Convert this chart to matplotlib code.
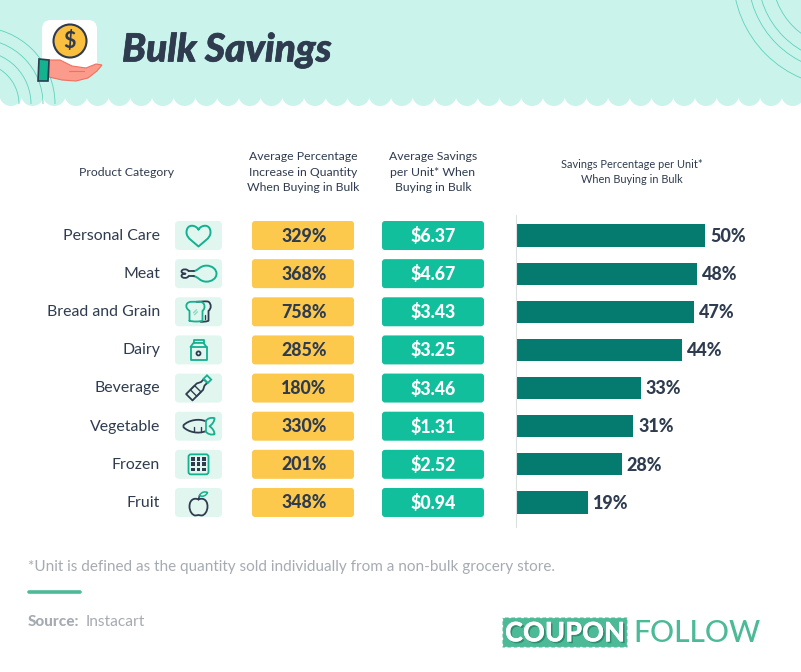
"""Bulk savings table-chart: pixel canvas for the layout, one axes for the bars."""

import numpy as np
import matplotlib
matplotlib.use("Agg")
import matplotlib.pyplot as plt
import matplotlib.patheffects as pe
from matplotlib.patches import Arc, Circle, Ellipse, FancyBboxPatch, PathPatch, Polygon, Rectangle
from matplotlib.path import Path

categories = ["Personal Care", "Meat", "Bread and Grain", "Dairy",
              "Beverage", "Vegetable", "Frozen", "Fruit"]
quantity_increase = [329, 368, 758, 285, 180, 330, 201, 348]
unit_savings = [6.37, 4.67, 3.43, 3.25, 3.46, 1.31, 2.52, 0.94]
savings_pct = [50, 48, 47, 44, 33, 31, 28, 19]

W, H = 801, 672
ROW_TOP, ROW_PITCH = 235.5, 38.14

MINT = "#CAF3EB"
INK = "#2F3C4F"
YELLOW = "#FDC94D"
GREEN = "#12BF9C"
TEAL = "#047B6E"
ICON_BG = "#E2F6F0"
ICON_GREEN = "#14B08F"
GREY = "#A6ABB2"
LOGO = "#4DBA97"

plt.rcParams["font.family"] = ["Lato", "DejaVu Sans"]

fig = plt.figure(figsize=(W / 100, H / 100), dpi=100, facecolor="white")
ax = fig.add_axes([0, 0, 1, 1])
ax.set_xlim(0, W)
ax.set_ylim(H, 0)
ax.axis("off")


def row_y(i):
    return ROW_TOP + i * ROW_PITCH


def round_box(x0, y0, x1, y1, color, pad=4, z=2):
    ax.add_patch(FancyBboxPatch((x0 + pad, y0 + pad), x1 - x0 - 2 * pad, y1 - y0 - 2 * pad,
                                boxstyle=f"round,pad={pad},rounding_size={pad}",
                                fc=color, ec="none", zorder=z))


def curve(ox, oy, start, segments, color=ICON_GREEN, lw=1.3, z=4, fc="none"):
    """Cubic outline; segments are (c1, c2, end) offsets from the origin."""
    verts = [start]
    codes = [Path.MOVETO]
    for seg in segments:
        verts.extend(seg)
        codes.extend([Path.CURVE4] * 3)
    verts = [(ox + a, oy + b) for a, b in verts]
    ax.add_patch(PathPatch(Path(verts, codes), fc=fc, ec=color, lw=lw, zorder=z,
                           capstyle="round", joinstyle="round"))


def line(xs, ys, color=INK, lw=1.3, z=4):
    ax.plot(xs, ys, color=color, lw=lw, zorder=z, solid_capstyle="round",
            solid_joinstyle="round")


# header band with the scalloped lower edge
ax.add_patch(Rectangle((0, 0), W, 95, fc=MINT, ec="none", zorder=0))
scallop_pitch = 21.72
for k in range(38):
    ax.add_patch(Circle(((k + 0.5) * scallop_pitch, 94.6), 11.4, fc=MINT, ec="none", zorder=0))

# thin arcs in the header corners
for r in (77, 65, 53, 41):
    ax.add_patch(Arc((-22, 104), 2 * r, 2 * r, theta1=270, theta2=360, ec="#5FD2BC", lw=0.6, zorder=1))
for r in (112, 97, 87, 73):
    ax.add_patch(Arc((845, -25), 2 * r, 2 * r, theta1=90, theta2=180, ec="#5FD2BC", lw=0.6, zorder=1))

# money-in-hand icon
round_box(42, 20, 97, 76, "white", pad=9, z=2)
ax.add_patch(Circle((70, 41), 16.5, fc="#FBBF3F", ec=INK, lw=1.5, zorder=3))
ax.text(70, 41.5, "$", fontsize=15.5, fontweight="bold", color=INK, ha="center", va="center", zorder=4)
ax.add_patch(Polygon([(49, 60), (60, 60), (72, 66), (86, 68), (96, 64), (102, 65), (97, 71),
                      (88, 78), (76, 81), (62, 80), (49, 77)],
                     fc="#FB9B8C", ec="#F0705F", lw=0.8, zorder=3))
line([69, 84], [71, 71], color="#F0705F", lw=0.8)
ax.add_patch(Polygon([(39, 59), (49, 60), (48, 81), (38, 81)], fc="#12B48F", ec=INK, lw=1.2, zorder=4))

ax.text(122, 61.5, "Bulk Savings", fontsize=28, fontweight="black", fontstyle="italic",
        color=INK, ha="left", va="baseline", zorder=4,
        path_effects=[pe.withStroke(linewidth=0.5, foreground=INK)])

# column headers
head_kw = dict(color=INK, ha="center", va="center", linespacing=1.52, zorder=4)
ax.text(127, 172, "Product Category", fontsize=8.8, **head_kw)
ax.text(303, 172, "Average Percentage\nIncrease in Quantity\nWhen Buying in Bulk", fontsize=8.8, **head_kw)
ax.text(433, 172, "Average Savings\nper Unit* When\nBuying in Bulk", fontsize=8.8, **head_kw)
ax.text(632, 172, "Savings Percentage per Unit*\nWhen Buying in Bulk", fontsize=7.9, **head_kw)

# table rows
for i, (cat, qty, sav) in enumerate(zip(categories, quantity_increase, unit_savings)):
    y = row_y(i)
    ax.text(160, y + 0.3, cat, fontsize=11.4, color=INK, ha="right", va="center", zorder=4)
    round_box(175, y - 14.5, 222, y + 14.5, ICON_BG, pad=4)
    round_box(252, y - 14.5, 354, y + 14.5, YELLOW, pad=3)
    round_box(382, y - 14.5, 484, y + 14.5, GREEN, pad=3)
    ax.text(304, y + 0.5, f"{qty}%", fontsize=12.8, fontweight="black", color=INK, ha="center", va="center", zorder=4)
    ax.text(433, y + 0.5, f"${sav:.2f}", fontsize=12.8, fontweight="black", color="white", ha="center", va="center", zorder=4)

# row icons, drawn around each icon cell centre
cx = 198.5

# heart
y = row_y(0)
curve(cx, y, (0, -6), [((-3, -11), (-12, -12), (-12, -3)),
                       ((-12, 3), (-4, 7), (0, 11)),
                       ((4, 7), (12, 3), (12, -3)),
                       ((12, -12), (3, -11), (0, -6))], lw=1.4)

# drumstick
y = row_y(1)
curve(cx, y, (-5, -2.5), [((0, -3), (1, -8), (8, -8)),
                          ((14, -8), (18, -4), (18, 0)),
                          ((18, 5), (13, 8), (8, 8)),
                          ((1, 8), (0, 3), (-5, 2.5))], lw=1.4)
line([cx - 5, cx - 10], [y - 2.5, y - 2.5])
line([cx - 5, cx - 10], [y + 2.5, y + 2.5])
curve(cx, y, (-10, -2.5), [((-11, -5), (-17, -5), (-17, -2)),
                           ((-17, -1), (-15, 0), (-13, 0)),
                           ((-15, 0), (-17, 1), (-17, 2)),
                           ((-17, 5), (-11, 5), (-10, 2.5))], color=INK)

# bread, dark back slice then the green front slice
y = row_y(2)
curve(cx, y, (-2, -10), [((3, -10), (8, -11), (10, -10)),
                         ((13, -8), (13, -3), (10, -1)),
                         ((10, 2), (10, 5), (10, 9)),
                         ((7, 10), (5, 10), (2, 10))], color=INK)
line([cx + 6, cx + 6], [y + 3, y + 7], lw=1)
curve(cx, y, (-9, 9), [((-9, 5), (-9, 2), (-9, -1)),
                       ((-14, -4), (-13, -10), (-7, -10)),
                       ((-3, -10), (0, -10), (2, -10)),
                       ((7, -9), (7, -3), (4, -1)),
                       ((4, 2), (4, 6), (4, 9)),
                       ((0, 10), (-5, 10), (-9, 9))])
line([cx - 5, cx - 2], [y + 1, y - 2], color="#8FD8C6", lw=1)
line([cx - 4, cx - 1], [y + 3, y], color="#8FD8C6", lw=1)

# milk carton
y = row_y(3)
line([cx - 8, cx + 8, cx + 8, cx - 8, cx - 8], [y - 3, y - 3, y + 10, y + 10, y - 3], color=ICON_GREEN)
line([cx - 8, cx - 5, cx + 5, cx + 8], [y - 3, y - 7, y - 7, y - 3], color=ICON_GREEN)
line([cx - 5, cx - 5, cx + 5, cx + 5], [y - 7, y - 10, y - 10, y - 7], color=ICON_GREEN)
ax.add_patch(Circle((cx, y + 3.5), 2, fc="none", ec=INK, lw=1.3, zorder=4))

# bottle, laid along a 45 degree axis
y = row_y(4)


def tilt(u, v):
    return (cx + (u + v) * 0.707, y - (u - v) * 0.707)


body = [tilt(*p) for p in [(-13, -4.5), (2, -4.5), (6, -2.5), (10, -2.5), (10, 2.5), (6, 2.5), (2, 4.5), (-13, 4.5)]]
ax.add_patch(Polygon(body, closed=True, fc="none", ec=INK, lw=1.3, zorder=4, joinstyle="round"))
ax.add_patch(Polygon([tilt(*p) for p in [(10, -3), (15, -3), (15, 3), (10, 3)]], closed=True,
                     fc="none", ec=ICON_GREEN, lw=1.3, zorder=4))
ax.add_patch(Polygon([tilt(*p) for p in [(-7, -4.5), (-1, -4.5), (-1, 4.5), (-7, 4.5)]], closed=True,
                     fc="none", ec=INK, lw=1, zorder=4))

# carrot
y = row_y(5)
curve(cx, y, (7, -5), [((0, -8), (-10, -6), (-15, -1)),
                       ((-15, 1), (-15, 1), (-15, 1)),
                       ((-10, 6), (0, 8), (7, 5))], color=INK)
line([cx - 5, cx - 5], [y + 1, y + 5], lw=1)
line([cx + 2, cx + 2], [y + 1, y + 5.5], lw=1)
curve(cx, y, (7, -5), [((9, -8), (13, -9), (16, -8)),
                       ((16, -5), (14, -2), (11, 0)),
                       ((14, 2), (16, 5), (16, 8)),
                       ((13, 9), (9, 8), (7, 5))])
line([cx + 7, cx + 7], [y - 5, y + 5], color=ICON_GREEN, lw=1.2)

# frozen tray
y = row_y(6)
ax.add_patch(FancyBboxPatch((cx - 9, y - 9), 18, 18, boxstyle="round,pad=1,rounding_size=2.5",
                            fc="none", ec=ICON_GREEN, lw=1.3, zorder=4))
for ox in (-5.2, 0, 5.2):
    for oy in (-5.2, 0, 5.2):
        ax.add_patch(Rectangle((cx + ox - 1.9, y + oy - 1.9), 3.8, 3.8, fc=INK, ec="none", zorder=4))

# apple
y = row_y(7)
curve(cx, y, (0, -3), [((-4, -5), (-9, -3), (-9, 4)),
                       ((-9, 9), (-6, 13), (-3, 13)),
                       ((-1.5, 13), (-1, 12.5), (0, 12.5)),
                       ((1, 12.5), (1.5, 13), (3, 13)),
                       ((6, 13), (9, 9), (9, 4)),
                       ((9, -3), (4, -5), (0, -3))], color=INK, lw=1.3)
line([cx, cx + 1], [y - 3, y - 7], lw=1.1)
curve(cx, y, (1, -7), [((3, -11), (7, -11), (9, -10)), ((8, -7), (4, -5), (1, -7))], lw=1.1)

# footnote and source
ax.text(28, 566.5, "*Unit is defined as the quantity sold individually from a non-bulk grocery store.",
        fontsize=11, color=GREY, ha="left", va="center")
line([29, 80], [592, 592], color=LOGO, lw=2.6)
ax.text(28, 622.5, "Source:", fontsize=11, fontweight="black", color=GREY, ha="left", va="center")
ax.text(86, 622.5, "Instacart", fontsize=11.2, color=GREY, ha="left", va="center")

# logo
ax.add_patch(Rectangle((502, 617), 125, 30, fc=LOGO, ec="white", lw=0.9, ls=(0, (2, 3)), zorder=2))
ax.text(565, 633.5, "COUPON", fontsize=19.5, fontweight="black", color="white", ha="center", va="center",
        zorder=3, path_effects=[pe.withSimplePatchShadow(offset=(1.2, -1.2), shadow_rgbFace="#2A8A6C", alpha=0.9),
                                pe.Normal()])
ax.text(633, 633, "FOLLOW", fontsize=21.6, fontweight="medium", color=LOGO, ha="left", va="center", zorder=3)

# bars, on their own axes so the length comes from the value scale
bar_left = 516
bar_ax = fig.add_axes([bar_left / W, 1 - 527.3 / H, (W - bar_left) / W, (527.3 - 214.5) / H])
bar_ax.patch.set_alpha(0)
bar_ax.set_xlim(0, (W - bar_left) / 3.78)
bar_ax.set_ylim(7.65, -0.55)
ypos = np.arange(len(categories))
bars = bar_ax.barh(ypos, savings_pct, height=0.58, color=TEAL, linewidth=0)
for p, v in zip(ypos, savings_pct):
    bar_ax.text(v + 1.3, p + 0.02, f"{v}%", fontsize=13, fontweight="black", color=INK, ha="left", va="center")
for side in ("top", "right", "bottom"):
    bar_ax.spines[side].set_visible(False)
bar_ax.spines["left"].set_color("#DDE0E3")
bar_ax.spines["left"].set_linewidth(0.8)
bar_ax.set_xticks([])
bar_ax.set_yticks([])

fig.savefig("out.png", dpi=100)
